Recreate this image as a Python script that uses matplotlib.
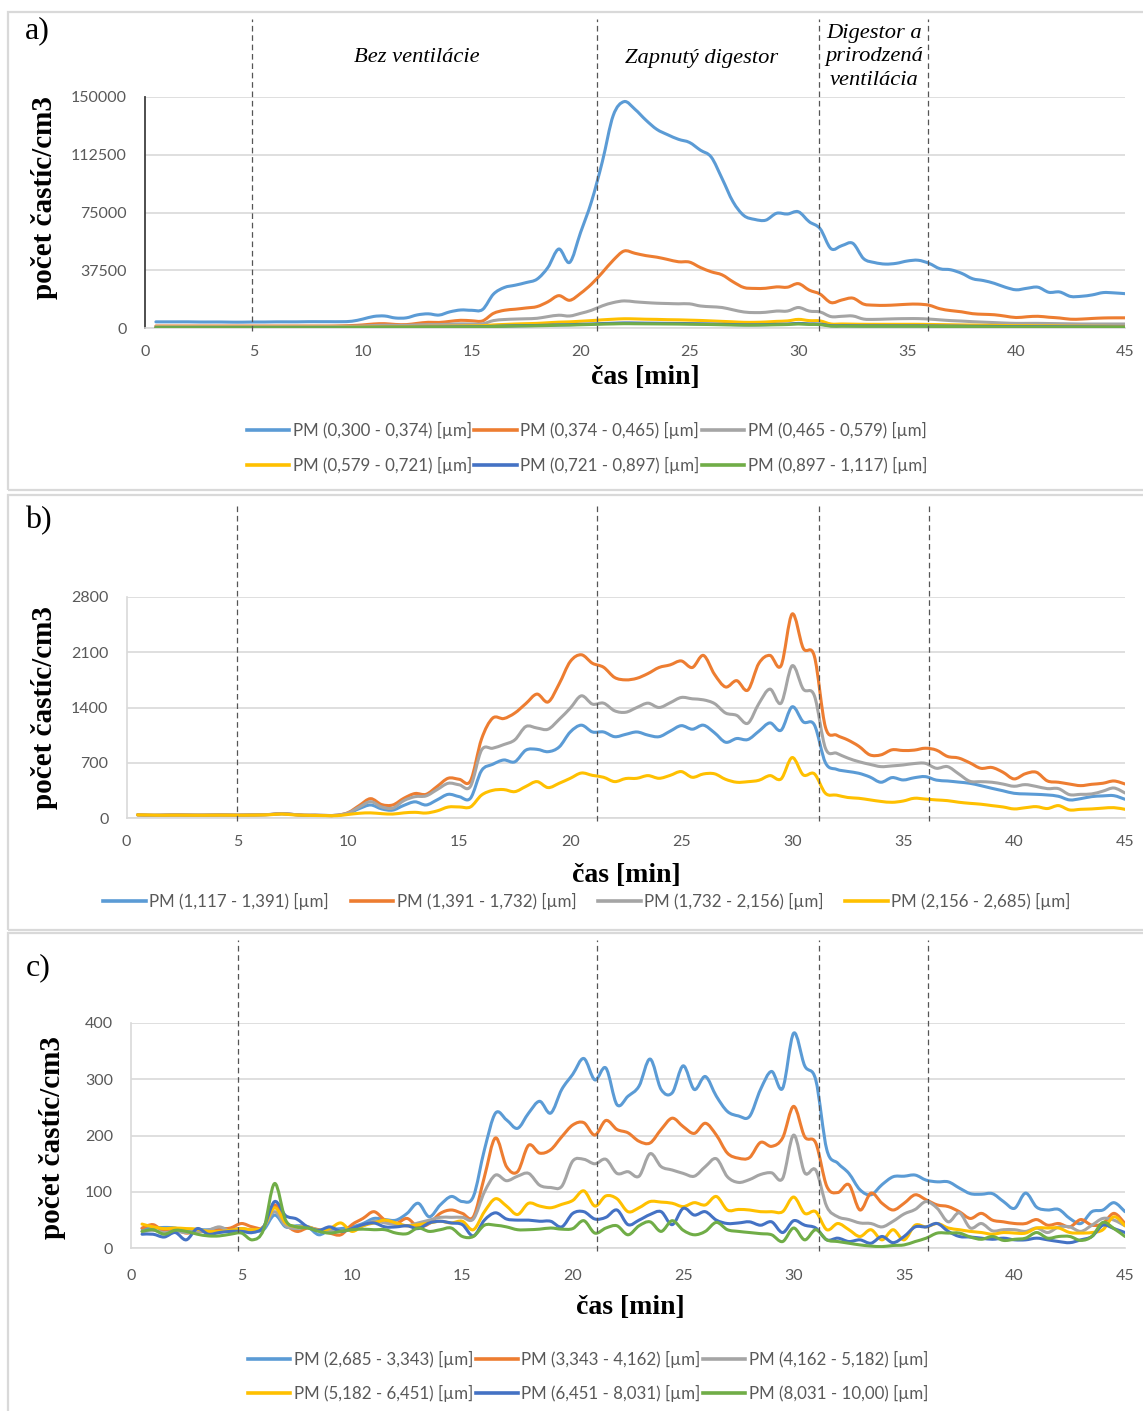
import numpy as np
import matplotlib
matplotlib.use("Agg")
import matplotlib.pyplot as plt
from matplotlib.path import Path
from matplotlib.patches import PathPatch, Rectangle
from matplotlib.lines import Line2D

W, H, DPI = 1143, 1411, 100

# measurement time, one sample every 30 s
minutes = np.arange(1, 91) * 0.5

# ---------------- a) fine fraction ----------------
a_labels = ["PM (0,300 - 0,374) [µm]", "PM (0,374 - 0,465) [µm]", "PM (0,465 - 0,579) [µm]",
            "PM (0,579 - 0,721) [µm]", "PM (0,721 - 0,897) [µm]", "PM (0,897 - 1,117) [µm]"]
a_pm_0300 = [4000, 4000, 4000, 4000, 3900, 3900, 3900, 3800, 3800, 3900,
             3900, 4000, 4000, 4000, 4100, 4100, 4100, 4100, 4400, 5800,
             7500, 7800, 6500, 6600, 8500, 9200, 8400, 10500, 11700, 11500,
             12000, 22000, 26300, 27800, 29500, 31700, 39300, 51300, 42600, 62000,
             82000, 108000, 138000, 147000, 142000, 135000, 129000, 125500, 122500, 120500,
             115500, 111000, 97000, 82000, 73000, 70500, 70000, 74500, 74000, 75500,
             69000, 64500, 51500, 53500, 55000, 45000, 42500, 41500, 42000, 43500,
             44000, 42000, 38500, 37800, 35500, 32000, 30800, 29000, 26500, 24800,
             25800, 26500, 23200, 23400, 20500, 20600, 21500, 23000, 22800, 22300]
a_pm_0374 = [1300, 1300, 1300, 1300, 1300, 1300, 1300, 1300, 1300, 1300,
             1300, 1300, 1300, 1300, 1300, 1300, 1300, 1400, 1600, 2000,
             2600, 2800, 2300, 2200, 3000, 3700, 3600, 4300, 5000, 4700,
             4600, 9500, 11500, 12200, 13000, 13900, 17000, 21000, 18000, 22500,
             28500, 36000, 44000, 50000, 48500, 47000, 46000, 44500, 43000, 42800,
             39300, 36500, 34500, 30000, 26300, 25700, 25800, 26700, 26500, 28800,
             24600, 22000, 16500, 18200, 19400, 15500, 14800, 14700, 15000, 15400,
             15500, 14800, 12500, 11300, 10500, 9300, 8900, 8600, 7700, 6800,
             7300, 7600, 7000, 6500, 5700, 5800, 6200, 6500, 6600, 6600]
a_pm_0465 = [900, 900, 900, 900, 900, 900, 900, 900, 900, 900,
             900, 900, 900, 900, 900, 900, 900, 1000, 1100, 1300,
             1600, 1800, 1700, 1700, 2000, 2200, 2200, 2500, 2700, 2600,
             2700, 4800, 5500, 5800, 6000, 6300, 7400, 8300, 7800, 9500,
             11500, 14400, 16500, 17600, 17000, 16500, 16100, 15900, 15700, 15700,
             14300, 13800, 13300, 11800, 10400, 10000, 10200, 11000, 11000, 13300,
             11000, 10400, 7400, 7600, 7800, 5800, 5600, 5800, 6000, 6100,
             6100, 5800, 5300, 4800, 4500, 4100, 3800, 3500, 3200, 3000,
             3000, 3000, 2900, 2800, 2700, 2600, 2600, 2600, 2600, 2600]
a_pm_0579 = [500, 500, 500, 500, 500, 500, 500, 500, 500, 500,
             500, 500, 500, 500, 500, 500, 500, 550, 600, 700,
             800, 900, 900, 900, 1000, 1100, 1100, 1200, 1300, 1400,
             1500, 2000, 2300, 2600, 2800, 3000, 3400, 3800, 4000, 4400,
             4800, 5300, 5700, 6000, 5900, 5700, 5600, 5400, 5300, 5100,
             4900, 4600, 4300, 4000, 3700, 3700, 3900, 4300, 4600, 5600,
             4800, 4600, 2600, 2600, 2500, 2400, 2400, 2400, 2400, 2400,
             2400, 2300, 2200, 2100, 2000, 1900, 1800, 1700, 1600, 1500,
             1500, 1400, 1400, 1300, 1200, 1200, 1100, 1100, 1000, 1000]
a_pm_0721 = [300, 300, 300, 300, 300, 300, 300, 300, 300, 300,
             300, 300, 300, 300, 300, 300, 300, 350, 400, 450,
             500, 550, 550, 550, 600, 650, 650, 700, 750, 800,
             850, 1100, 1300, 1450, 1550, 1650, 1850, 2050, 2150, 2400,
             2600, 2900, 3100, 3300, 3250, 3150, 3100, 3000, 2950, 2850,
             2750, 2600, 2400, 2250, 2100, 2100, 2200, 2400, 2550, 3000,
             2650, 2550, 1500, 1500, 1450, 1400, 1400, 1400, 1400, 1400,
             1400, 1350, 1300, 1250, 1200, 1100, 1050, 1000, 950, 900,
             900, 850, 850, 800, 750, 750, 700, 700, 650, 650]
a_pm_0897 = [200, 200, 200, 200, 200, 200, 200, 200, 200, 200,
             200, 200, 200, 200, 200, 200, 200, 250, 300, 350,
             400, 450, 450, 450, 500, 550, 550, 600, 650, 700,
             750, 950, 1100, 1250, 1350, 1450, 1600, 1800, 1900, 2100,
             2300, 2500, 2650, 2800, 2750, 2700, 2650, 2600, 2550, 2450,
             2350, 2250, 2100, 1950, 1850, 1850, 1950, 2100, 2250, 2600,
             2300, 2200, 1200, 1200, 1150, 1100, 1100, 1100, 1100, 1100,
             1100, 1050, 1000, 950, 900, 850, 800, 750, 700, 650,
             650, 600, 600, 550, 550, 500, 500, 450, 450, 400]
a_yticks = [0, 37500, 75000, 112500, 150000]

# ---------------- b) medium fraction ----------------
b_labels = ["PM (1,117 - 1,391) [µm]", "PM (1,391 - 1,732) [µm]",
            "PM (1,732 - 2,156) [µm]", "PM (2,156 - 2,685) [µm]"]
b_pm_1117 = [40, 35, 35, 38, 38, 36, 36, 38, 38, 36,
             38, 40, 45, 55, 45, 35, 35, 32, 35, 60,
             120, 165, 115, 100, 160, 205, 165, 230, 300, 270,
             250, 600, 680, 735, 712, 860, 870, 840, 900, 1090,
             1176, 1090, 1090, 1030, 1060, 1090, 1050, 1030, 1100, 1170,
             1125, 1176, 1080, 960, 1007, 994, 1100, 1205, 1112, 1409,
             1218, 1180, 700, 617, 590, 567, 520, 453, 512, 482,
             510, 524, 480, 469, 455, 440, 410, 376, 345, 313,
             305, 300, 292, 275, 229, 245, 271, 280, 283, 237]
b_pm_1391 = [40, 35, 35, 38, 38, 36, 36, 38, 38, 36,
             38, 40, 45, 55, 45, 35, 35, 32, 35, 70,
             160, 245, 170, 165, 250, 310, 300, 400, 504, 490,
             470, 1000, 1265, 1260, 1330, 1450, 1570, 1470, 1700, 1983,
             2068, 1960, 1910, 1780, 1750, 1770, 1830, 1907, 1940, 1990,
             1907, 2060, 1820, 1660, 1740, 1620, 1960, 2060, 1930, 2585,
             2150, 2050, 1150, 1050, 990, 910, 800, 800, 864, 855,
             860, 884, 860, 780, 760, 700, 630, 640, 580, 495,
             560, 580, 470, 453, 430, 410, 427, 440, 469, 431]
b_pm_1732 = [40, 35, 35, 38, 38, 36, 36, 38, 38, 36,
             38, 40, 45, 55, 45, 35, 35, 32, 35, 65,
             140, 207, 140, 125, 220, 270, 280, 360, 440, 420,
             400, 860, 884, 930, 990, 1159, 1140, 1125, 1250, 1392,
             1548, 1443, 1455, 1358, 1340, 1400, 1455, 1400, 1460, 1527,
             1510, 1497, 1450, 1330, 1300, 1200, 1450, 1633, 1455, 1929,
             1633, 1550, 884, 821, 760, 714, 680, 651, 660, 672,
             690, 693, 630, 651, 560, 466, 460, 453, 430, 402,
             423, 400, 372, 372, 296, 300, 305, 340, 380, 317]
b_pm_2156 = [40, 38, 35, 36, 36, 35, 35, 36, 36, 35,
             36, 38, 42, 50, 40, 35, 32, 30, 30, 45,
             60, 65, 55, 50, 65, 72, 63, 90, 139, 140,
             140, 290, 350, 360, 334, 400, 461, 385, 440, 503,
             570, 540, 516, 461, 500, 503, 537, 503, 540, 588,
             516, 558, 560, 490, 453, 460, 478, 537, 495, 766,
             546, 560, 313, 290, 260, 250, 230, 210, 199, 215,
             250, 240, 229, 220, 200, 186, 175, 157, 140, 115,
             130, 144, 120, 157, 102, 110, 115, 125, 131, 110]
b_yticks = [0, 700, 1400, 2100, 2800]

# ---------------- c) coarse fraction ----------------
c_labels = ["PM (2,685 - 3,343) [µm]", "PM (3,343 - 4,162) [µm]", "PM (4,162 - 5,182) [µm]",
            "PM (5,182 - 6,451) [µm]", "PM (6,451 - 8,031) [µm]", "PM (8,031 - 10,00) [µm]"]
c_pm_2685 = [35, 36, 37, 36, 30, 33, 33, 36, 34, 35,
             32, 33, 59, 38, 40, 38, 24, 33, 35, 38,
             44, 53, 51, 50, 62, 80, 56, 77, 92, 83,
             92, 175, 240, 228, 213, 240, 261, 240, 282, 309,
             337, 299, 320, 255, 270, 288, 336, 282, 276, 324,
             282, 305, 270, 243, 235, 234, 282, 314, 284, 382,
             324, 299, 175, 151, 133, 104, 95, 113, 127, 128,
             130, 121, 118, 118, 107, 97, 96, 97, 83, 71,
             98, 73, 68, 69, 53, 44, 65, 68, 81, 65]
c_pm_3343 = [36, 42, 30, 33, 27, 30, 30, 33, 36, 44,
             38, 38, 77, 44, 30, 36, 33, 27, 24, 42,
             53, 65, 50, 44, 53, 38, 44, 62, 68, 62,
             56, 127, 196, 145, 136, 183, 169, 175, 198, 219,
             223, 201, 227, 211, 205, 190, 187, 211, 231, 216,
             204, 222, 201, 169, 160, 161, 188, 181, 196, 252,
             198, 187, 110, 99, 113, 68, 98, 80, 68, 80,
             95, 86, 77, 74, 65, 53, 62, 50, 47, 44,
             44, 51, 41, 44, 38, 51, 41, 44, 62, 44]
c_pm_4162 = [30, 32, 28, 30, 28, 30, 32, 38, 30, 32,
             30, 38, 65, 40, 35, 38, 32, 30, 30, 35,
             40, 48, 45, 42, 40, 45, 50, 55, 55, 55,
             52, 100, 130, 120, 128, 133, 112, 108, 110, 155,
             158, 150, 158, 133, 136, 128, 168, 145, 139, 133,
             128, 145, 159, 127, 117, 122, 131, 134, 124, 201,
             134, 139, 74, 56, 51, 45, 44, 38, 48, 61,
             69, 83, 71, 47, 63, 36, 44, 31, 33, 33,
             30, 36, 28, 38, 38, 30, 41, 53, 50, 40]
c_pm_5182 = [43, 38, 35, 36, 35, 34, 30, 30, 32, 35,
             33, 38, 72, 45, 38, 38, 32, 35, 45, 30,
             40, 45, 50, 45, 40, 42, 45, 48, 45, 48,
             33, 65, 88, 75, 60, 80, 75, 72, 78, 85,
             102, 75, 93, 88, 65, 72, 83, 82, 80, 74,
             81, 77, 92, 68, 69, 68, 65, 65, 65, 91,
             62, 65, 33, 44, 33, 21, 33, 15, 33, 15,
             41, 38, 44, 36, 33, 30, 28, 25, 28, 27,
             27, 36, 36, 36, 28, 27, 28, 33, 56, 40]
c_pm_6451 = [25, 25, 20, 28, 15, 35, 25, 28, 30, 30,
             28, 38, 83, 58, 52, 38, 32, 38, 30, 35,
             42, 45, 38, 38, 40, 35, 45, 48, 45, 42,
             22, 50, 63, 52, 50, 50, 48, 48, 38, 62,
             65, 52, 55, 68, 42, 50, 60, 65, 42, 71,
             59, 65, 50, 44, 45, 47, 41, 47, 28, 49,
             41, 36, 15, 18, 12, 15, 9, 21, 10, 21,
             38, 38, 44, 30, 21, 20, 18, 16, 18, 15,
             15, 18, 15, 12, 10, 15, 21, 41, 35, 28]
c_pm_8031 = [30, 33, 25, 32, 30, 25, 22, 22, 25, 27,
             15, 33, 115, 50, 38, 36, 30, 27, 30, 33,
             34, 33, 33, 27, 26, 36, 30, 33, 36, 21,
             21, 41, 41, 38, 33, 33, 34, 36, 34, 35,
             49, 27, 36, 40, 24, 40, 47, 30, 49, 32,
             24, 30, 46, 33, 30, 28, 26, 24, 12, 36,
             15, 33, 15, 12, 9, 6, 4, 3, 5, 6,
             12, 18, 27, 27, 27, 20, 16, 21, 14, 16,
             18, 28, 18, 21, 21, 14, 21, 46, 35, 21]
c_yticks = [0, 100, 200, 300, 400]

x_ticks = [0, 5, 10, 15, 20, 25, 30, 35, 40, 45]

# phase boundaries [min] marked by dashed lines in each panel
a_phases = [4.9, 20.75, 30.95, 35.95]
b_phases = [5.0, 21.2, 31.2, 36.15]
c_phases = [4.85, 21.1, 31.15, 36.1]

phase_names = ["Bez ventilácie", "Zapnutý digestor", "Digestor a\nprirodzená\nventilácia"]

colors6 = ["#5B9BD5", "#ED7D31", "#A5A5A5", "#FFC000", "#4472C4", "#70AD47"]
colors4 = ["#5B9BD5", "#ED7D31", "#A5A5A5", "#FFC000"]

GRID = "#D9D9D9"
TXT = "#595959"
SANS = "Lato"
SERIF = "Liberation Serif"
LW = 2.2
LEG_SIZE = 12.2


def fx(px):
    return px / W


def fy(py):
    return 1 - py / H


def smooth_path(x, y):
    """Cubic Bezier curve through every sample (spreadsheet-style smoothed line)."""
    pts = np.column_stack([x, y]).astype(float)
    n = len(pts)
    verts = [pts[0]]
    codes = [Path.MOVETO]
    for i in range(n - 1):
        p0 = pts[i - 1] if i > 0 else pts[i]
        p1, p2 = pts[i], pts[i + 1]
        p3 = pts[i + 2] if i + 2 < n else pts[i + 1]
        verts += [p1 + (p2 - p0) / 6.0, p2 - (p3 - p1) / 6.0, p2]
        codes += [Path.CURVE4] * 3
    return Path(verts, codes)


def setup_axes(ax, yticks, dark_left, xpad, ypad):
    ax.set_xlim(0, 45)
    ax.set_ylim(yticks[0], yticks[-1])
    ax.set_xticks(x_ticks)
    ax.set_yticks(yticks)
    ax.set_yticklabels([str(v) for v in yticks])
    ax.grid(axis="y", color=GRID, lw=1.2)
    ax.set_axisbelow(True)
    for s in ("top", "right"):
        ax.spines[s].set_visible(False)
    ax.spines["bottom"].set_color(GRID)
    ax.spines["bottom"].set_linewidth(1.2)
    if dark_left:
        ax.spines["left"].set_color("#404040")
        ax.spines["left"].set_linewidth(1.3)
    else:
        ax.spines["left"].set_color(GRID)
        ax.spines["left"].set_linewidth(1.2)
    ax.tick_params(length=0, labelcolor=TXT, labelsize=11.5)
    ax.tick_params(axis="x", pad=xpad)
    ax.tick_params(axis="y", pad=ypad)
    for lab in ax.get_xticklabels() + ax.get_yticklabels():
        lab.set_fontfamily(SANS)


def draw_series(ax, series, colors):
    for vals, col in zip(series, colors):
        ax.add_patch(PathPatch(smooth_path(minutes, vals), facecolor="none",
                               edgecolor=col, lw=LW, capstyle="round",
                               joinstyle="round", zorder=3))


def draw_phases(ax, bounds, top):
    for b in bounds:
        ax.axvline(b, ymin=-0.012, ymax=top, color="#555555", lw=0.9,
                   ls=(0, (4.5, 3)), clip_on=False, zorder=4)


def add_legend(fig, labels, colors, ncol, cx, cy, colspacing):
    handles = [Line2D([], [], color=c, lw=LW + 0.4) for c in colors]
    if ncol == 3:
        order = [0, 3, 1, 4, 2, 5]
        handles = [handles[i] for i in order]
        labels = [labels[i] for i in order]
    fig.legend(handles, labels, loc="center", bbox_to_anchor=(fx(cx), fy(cy)),
               ncol=ncol, frameon=False, handlelength=2.5, handletextpad=0.2,
               columnspacing=colspacing, labelspacing=1.05, borderpad=0,
               prop={"family": SANS, "size": LEG_SIZE}, labelcolor=TXT)


fig = plt.figure(figsize=(W / DPI, H / DPI), dpi=DPI)
fig.patch.set_facecolor("white")

# panel frames
for top, bottom in [(12, 490), (495, 930), (933, 1425)]:
    fig.patches.append(Rectangle((fx(8), fy(bottom)), fx(1160 - 8), (bottom - top) / H,
                                 transform=fig.transFigure, facecolor="none",
                                 edgecolor="#D9D9D9", lw=1.6, zorder=0))

# ---- panel a ----
ax_a = fig.add_axes([fx(145), fy(328), fx(980), 231 / H])
setup_axes(ax_a, a_yticks, True, 12, 13)
draw_series(ax_a, [a_pm_0300, a_pm_0374, a_pm_0465, a_pm_0579, a_pm_0721, a_pm_0897], colors6)
draw_phases(ax_a, a_phases, (328 - 19) / 231)

# ---- panel b ----
ax_b = fig.add_axes([fx(126.5), fy(818), fx(998.5), 221 / H])
setup_axes(ax_b, b_yticks, False, 12, 13)
draw_series(ax_b, [b_pm_1117, b_pm_1391, b_pm_1732, b_pm_2156], colors4)
draw_phases(ax_b, b_phases, (818 - 505) / 221)

# ---- panel c ----
ax_c = fig.add_axes([fx(131), fy(1248.3), fx(994), 225.3 / H])
setup_axes(ax_c, c_yticks, False, 15, 13)
draw_series(ax_c, [c_pm_2685, c_pm_3343, c_pm_4162, c_pm_5182, c_pm_6451, c_pm_8031], colors6)
draw_phases(ax_c, c_phases, (1248.3 - 940) / 225.3)

# panel tags
for tag, (px, py) in zip(["a)", "b)", "c)"], [(37, 31), (38, 521), (38, 968)]):
    fig.text(fx(px), fy(py), tag, ha="center", va="center", family=SERIF, fontsize=23)

# axis titles
for px, py in [(45, 198), (45, 708), (52, 1138)]:
    fig.text(fx(px), fy(py), "počet častíc/cm3", rotation=90, ha="center", va="center",
             family=SERIF, fontweight="bold", fontsize=21)
for px, py in [(645, 378), (626, 876), (630, 1308)]:
    fig.text(fx(px), fy(py), "čas [min]", ha="center", va="center",
             family=SERIF, fontweight="bold", fontsize=20)

# ventilation phase names
for name, (px, py) in zip(phase_names, [(417, 58), (702, 58), (874, 57)]):
    fig.text(fx(px), fy(py), name, ha="center", va="center", family=SERIF,
             style="italic", fontsize=16.2, linespacing=1.33)

add_legend(fig, a_labels, colors6, 3, 587, 448, 0.15)
add_legend(fig, b_labels, colors4, 4, 587, 901, 1.3)
add_legend(fig, c_labels, colors6, 3, 588, 1376.5, 0.15)

fig.savefig("out.png", dpi=DPI, facecolor="white")
